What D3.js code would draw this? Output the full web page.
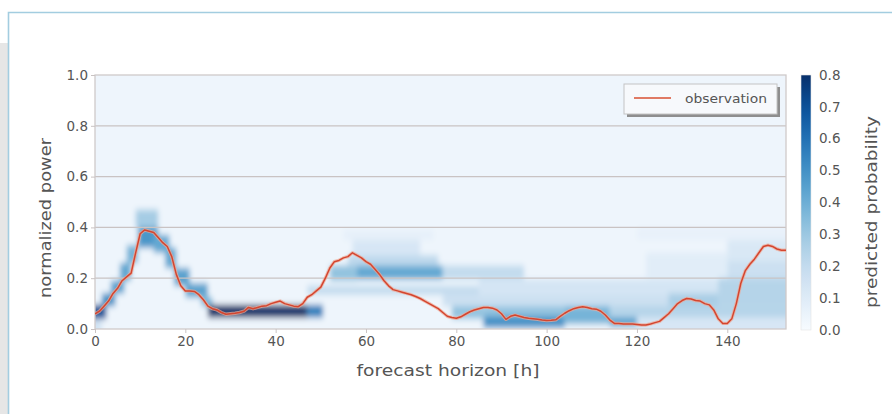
<!DOCTYPE html>
<html><head><meta charset="utf-8">
<script src="https://cdn.jsdelivr.net/npm/d3@7"></script>
<style>body{margin:0;background:#fff;} text{font-family:"DejaVu Sans",sans-serif;}</style>
</head><body>
<svg id="c" width="892" height="414"></svg>
<script>
// ---------- data ----------
const observation = [
 0.06,0.07,0.09,0.11,0.14,0.16,0.19,0.205,0.22,0.30,
 0.375,0.39,0.385,0.38,0.36,0.34,0.325,0.285,0.215,0.17,
 0.15,0.15,0.148,0.135,0.115,0.09,0.08,0.075,0.065,0.058,
 0.06,0.062,0.065,0.07,0.085,0.08,0.085,0.09,0.092,0.10,
 0.105,0.11,0.10,0.095,0.09,0.088,0.10,0.125,0.135,0.15,
 0.165,0.20,0.24,0.265,0.27,0.28,0.285,0.30,0.29,0.28,
 0.265,0.255,0.235,0.215,0.19,0.17,0.155,0.15,0.145,0.14,
 0.135,0.128,0.12,0.11,0.10,0.09,0.08,0.065,0.05,0.045,
 0.042,0.048,0.058,0.068,0.075,0.08,0.085,0.085,0.082,0.075,
 0.06,0.038,0.05,0.055,0.05,0.045,0.042,0.04,0.038,0.035,
 0.033,0.034,0.036,0.05,0.062,0.072,0.08,0.085,0.088,0.085,
 0.08,0.078,0.07,0.055,0.035,0.022,0.022,0.02,0.02,0.02,
 0.018,0.016,0.016,0.02,0.025,0.03,0.045,0.06,0.08,0.10,
 0.112,0.12,0.118,0.112,0.11,0.10,0.095,0.075,0.04,0.022,
 0.022,0.04,0.10,0.18,0.23,0.255,0.275,0.30,0.325,0.33,
 0.325,0.315,0.31,0.31
];
const hourDomain = [0, 153];
const powerDomain = [0, 1];
const probDomain = [0, 0.8];
const xTicks = [0, 20, 40, 60, 80, 100, 120, 140];
const yTicks = [0.0, 0.2, 0.4, 0.6, 0.8, 1.0];
const cbTicks = [0.0, 0.1, 0.2, 0.3, 0.4, 0.5, 0.6, 0.7, 0.8];
const backgroundProb = 0.035;
// predicted probability regions: [hourStart, hourEnd, powerLow, powerHigh, probability]
const probBands = [
 [0, 1.5, 0.0, 0.04, 0.15],
 [0, 2.5, 0.04, 0.095, 0.7],
 [1.5, 4.5, 0.09, 0.14, 0.5],
 [3.5, 6.5, 0.14, 0.19, 0.45],
 [5.5, 8, 0.19, 0.26, 0.42],
 [7, 9.5, 0.26, 0.33, 0.38],
 [9, 14, 0.40, 0.47, 0.28],
 [9.5, 14, 0.32, 0.40, 0.48],
 [13, 16.5, 0.30, 0.37, 0.42],
 [15.5, 18, 0.24, 0.32, 0.42],
 [17.5, 21, 0.17, 0.24, 0.44],
 [20, 25, 0.125, 0.18, 0.44],
 [23.5, 26, 0.09, 0.125, 0.38],
 [25, 47, 0.045, 0.095, 0.8],
 [47, 50.5, 0.045, 0.095, 0.55],
 [47, 85, 0.135, 0.17, 0.2],
 [52, 58, 0.19, 0.25, 0.32],
 [58, 77, 0.195, 0.25, 0.42],
 [77, 95, 0.195, 0.25, 0.2],
 [56, 76, 0.25, 0.29, 0.22],
 [57, 72, 0.29, 0.35, 0.13],
 [55, 75, 0.35, 0.39, 0.07],
 [77, 153, 0.09, 0.135, 0.17],
 [85, 153, 0.135, 0.195, 0.14],
 [79, 86, 0.04, 0.09, 0.32],
 [86, 104, 0.05, 0.09, 0.32],
 [86, 104, 0.005, 0.05, 0.5],
 [104, 114, 0.02, 0.09, 0.38],
 [114, 120, 0.01, 0.05, 0.45],
 [114, 153, 0.045, 0.09, 0.24],
 [120, 153, 0.0, 0.045, 0.13],
 [127, 138, 0.09, 0.14, 0.27],
 [138, 153, 0.09, 0.2, 0.24],
 [122, 140, 0.2, 0.3, 0.09],
 [140, 153, 0.2, 0.27, 0.17],
 [140, 153, 0.27, 0.35, 0.12],
 [120, 153, 0.35, 0.40, 0.06]
];
const xLabel = "forecast horizon [h]";
const yLabel = "normalized power";
const cbLabel = "predicted probability";
const legendLabel = "observation";

// ---------- layout ----------
const L = 95, R = 786, T = 75, B = 329;
const svg = d3.select("#c");
const x = d3.scaleLinear(hourDomain, [L, R]);
const y = d3.scaleLinear(powerDomain, [B, T]);
const color = d3.scaleSequential(d3.interpolateBlues).domain(probDomain);

// page decoration
svg.append("rect").attr("x",0).attr("y",43).attr("width",8).attr("height",371).attr("fill","#e6e6e6");
svg.append("path").attr("d","M8.5,414V12.5H892").attr("fill","none").attr("stroke","#a3cde0").attr("stroke-width",1.6);

const defs = svg.append("defs");
defs.append("clipPath").attr("id","plotclip").append("rect")
  .attr("x",L).attr("y",T).attr("width",R-L).attr("height",B-T);
const f = defs.append("filter").attr("id","blur").attr("filterUnits","userSpaceOnUse")
  .attr("x",L-30).attr("y",T-30).attr("width",R-L+60).attr("height",B-T+60);
f.append("feGaussianBlur").attr("in","SourceGraphic").attr("stdDeviation","2.6 3.4");

// heatmap
const hmOuter = svg.append("g").attr("clip-path","url(#plotclip)");
const hm = hmOuter.append("g").attr("filter","url(#blur)");
hm.append("rect").attr("x",L-20).attr("y",T-20).attr("width",R-L+40).attr("height",B-T+40)
  .attr("fill", color(backgroundProb));
hm.selectAll("rect.band").data(probBands).join("rect").attr("class","band")
  .attr("x", d => x(d[0]) - (d[0] === hourDomain[0] ? 12 : 0))
  .attr("width", d => x(d[1]) - x(d[0]) + (d[0] === hourDomain[0] ? 12 : 0) + (d[1] === hourDomain[1] ? 12 : 0))
  .attr("y", d => y(d[3])).attr("height", d => y(d[2]) - y(d[3]) + (d[2] === 0 ? 12 : 0))
  .attr("fill", d => color(d[4]));

// grid
svg.append("g").selectAll("line").data(yTicks.filter(v => v > 0 && v < 1)).join("line")
  .attr("x1", L).attr("x2", R).attr("y1", d => y(d)).attr("y2", d => y(d))
  .attr("stroke","#c9c3c3").attr("stroke-width",1.3);
svg.append("rect").attr("x",L).attr("y",T).attr("width",R-L).attr("height",B-T)
  .attr("fill","none").attr("stroke","#cfcaca").attr("stroke-width",1.3);

// axes
const yAxis = svg.append("g").attr("transform",`translate(${L},0)`)
  .call(d3.axisLeft(y).tickValues(yTicks).tickFormat(d3.format(".1f")).tickSize(4).tickPadding(3));
const xAxis = svg.append("g").attr("transform",`translate(0,${B})`)
  .call(d3.axisBottom(x).tickValues(xTicks).tickFormat(d3.format("d")).tickSize(4).tickPadding(3));
[yAxis, xAxis].forEach(g => {
  g.select(".domain").remove();
  g.selectAll(".tick line").attr("stroke","#c9c3c3");
  g.selectAll(".tick text").attr("fill","#555").style("font-size","13.5px").style("font-family","DejaVu Sans");
});

// observation line
const line = d3.line().x((d,i) => x(i)).y(d => y(d));
const lg = svg.append("g").attr("clip-path","url(#plotclip)");
lg.append("path").datum(observation).attr("d", line).attr("fill","none")
  .attr("stroke","#f0a894").attr("stroke-width",3.4).attr("stroke-opacity",0.7).attr("stroke-linejoin","round");
lg.append("path").datum(observation).attr("d", line).attr("fill","none")
  .attr("stroke","#d4452f").attr("stroke-width",1.5).attr("stroke-linejoin","round");

// labels
svg.append("text").attr("x",448).attr("y",376).attr("text-anchor","middle")
  .attr("fill","#555").style("font-size","15px").attr("textLength",183).attr("lengthAdjust","spacingAndGlyphs").text(xLabel);
svg.append("text").attr("transform","translate(51,218) rotate(-90)").attr("text-anchor","middle")
  .attr("fill","#555").style("font-size","15px").attr("textLength",160).attr("lengthAdjust","spacingAndGlyphs").text(yLabel);

// legend
const leg = svg.append("g");
leg.append("rect").attr("x",627).attr("y",87).attr("width",153).attr("height",30).attr("fill","#8e8e8e");
leg.append("rect").attr("x",624).attr("y",84).attr("width",153).attr("height",30)
  .attr("fill","#f7f9fc").attr("stroke","#c4c4c4").attr("stroke-width",1);
leg.append("line").attr("x1",634).attr("x2",671).attr("y1",98).attr("y2",98)
  .attr("stroke","#e07a64").attr("stroke-width",2.2);
leg.append("text").attr("x",685).attr("y",103).attr("fill","#555").style("font-size","13px")
  .attr("textLength",82).attr("lengthAdjust","spacingAndGlyphs").text(legendLabel);

// colorbar
const cbX = 801, cbW = 10, cbT = 75, cbB = 330;
const cy = d3.scaleLinear(probDomain, [cbB, cbT]);
const grad = defs.append("linearGradient").attr("id","cbgrad").attr("x1",0).attr("y1",1).attr("x2",0).attr("y2",0);
grad.selectAll("stop").data(d3.range(0, 1.0001, 0.05)).join("stop")
  .attr("offset", d => d).attr("stop-color", d => d3.interpolateBlues(d));
svg.append("rect").attr("x",cbX).attr("y",cbT).attr("width",cbW).attr("height",cbB-cbT).attr("fill","url(#cbgrad)")
  .attr("stroke","#e3e3e3").attr("stroke-width",0.6);
svg.append("g").selectAll("text").data(cbTicks).join("text")
  .attr("x", 819).attr("y", d => cy(d)).attr("dy","0.35em")
  .attr("fill","#555").style("font-size","13.5px").text(d3.format(".1f"));
svg.append("text").attr("transform","translate(877,212) rotate(-90)").attr("text-anchor","middle")
  .attr("fill","#555").style("font-size","15px").attr("textLength",192).attr("lengthAdjust","spacingAndGlyphs").text(cbLabel);
</script>
</body></html>
